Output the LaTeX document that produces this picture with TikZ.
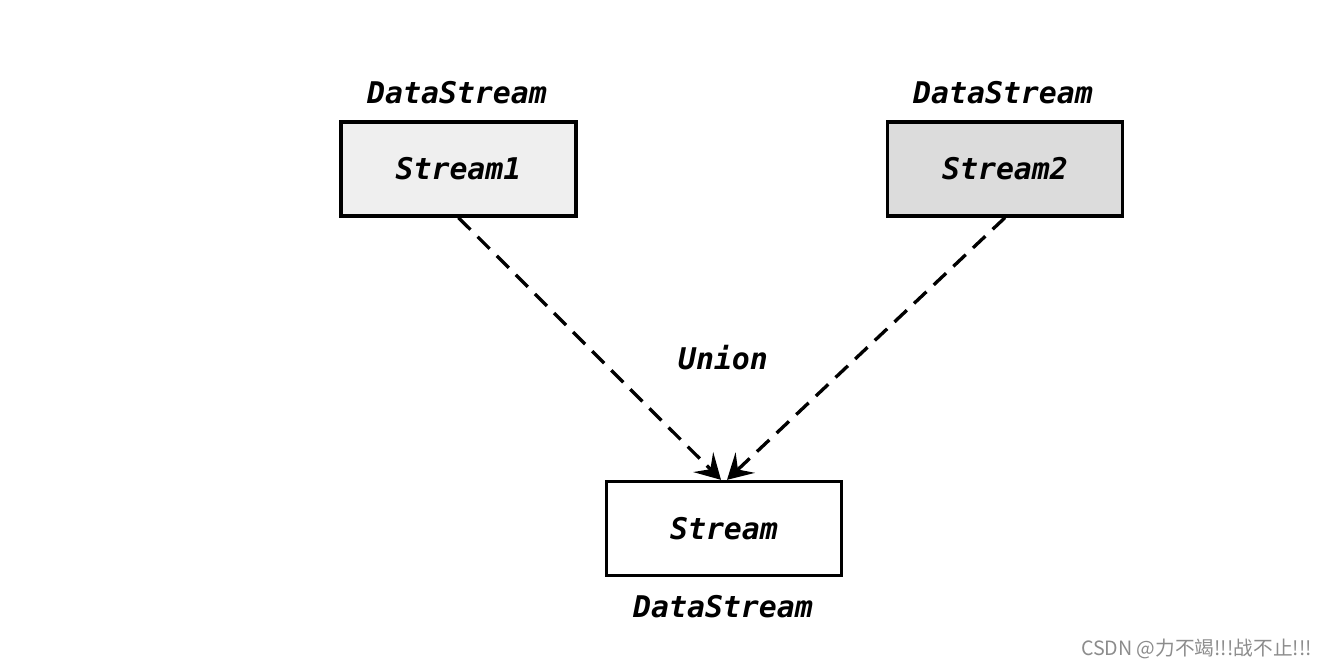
\documentclass[tikz,border=0pt]{standalone}
\usepackage{fontspec}
\setmonofont{DejaVu Sans Mono}
\newfontfamily\cjk{Noto Sans CJK SC}
\usetikzlibrary{arrows.meta}
\definecolor{lightfill}{HTML}{EFEFEF}
\definecolor{darkfill}{HTML}{DCDCDC}
\begin{document}
\begin{tikzpicture}[x=0.02cm,y=-0.02cm,
		box/.style={draw, line width=1.9pt, minimum width=4.7cm, minimum height=1.88cm, inner sep=0pt, font=\fontsize{17}{20}\selectfont\ttfamily\bfseries\itshape},
		lbl/.style={font=\fontsize{17}{20}\selectfont\ttfamily\bfseries\itshape},
		flow/.style={line width=1.9pt, dash pattern=on 0.34cm off 0.2cm, -{Stealth[length=0.5cm,width=0.56cm,inset=0.2cm]}}]
		\useasboundingbox (0,0) rectangle (1330,668);
		\node[box, fill=lightfill] (s1) at (458.5,169) {Stream1};
		\node[box, fill=darkfill] (s2) at (1005,169) {Stream2};
		\node[box, fill=white] (out) at (724,528.5) {Stream};
		\node[lbl] (t1) at (457,93) {DataStream};
		\node[lbl] (t2) at (1003,93) {DataStream};
		\node[lbl] (t3) at (723,607) {DataStream};
		\node[lbl] (union) at (723,358) {Union};
		\draw[flow] (s1.south) -- ([xshift=-0.06cm]out.north);
		\draw[flow] (s2.south) -- ([xshift=0.06cm]out.north);
		% watermark
		\node[anchor=east, text=black!45, font=\cjk\fontsize{11.2}{13}\selectfont] (mark) at (1318,649) {CSDN @力不竭!!!战不止!!!};
	\end{tikzpicture}
\end{document}
